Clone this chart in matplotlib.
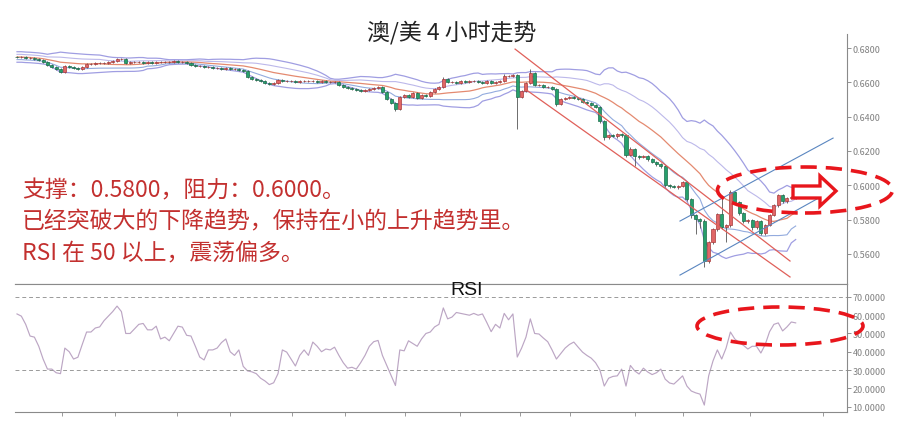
import numpy as np
import pandas as pd
import matplotlib
matplotlib.use('Agg')
import matplotlib.pyplot as plt
from matplotlib.patches import Ellipse, Polygon

plt.rcParams['font.family'] = ['Noto Sans CJK SC', 'DejaVu Sans']

# ---------------- data ----------------
first_open = 0.6750
closes = [
    0.6748, 0.6748, 0.6742, 0.6742, 0.6736, 0.6730, 0.6718, 0.6701, 0.6689, 0.6678,
    0.6660, 0.6695, 0.6689, 0.6683, 0.6678, 0.6689, 0.6707, 0.6707, 0.6713, 0.6713,
    0.6713, 0.6718, 0.6724, 0.6736, 0.6736, 0.6713, 0.6718, 0.6718, 0.6718, 0.6713,
    0.6718, 0.6713, 0.6718, 0.6718, 0.6718, 0.6718, 0.6724, 0.6718, 0.6718, 0.6713,
    0.6701, 0.6695, 0.6695, 0.6689, 0.6689, 0.6683, 0.6683, 0.6678, 0.6683, 0.6678,
    0.6678, 0.6672, 0.6666, 0.6631, 0.6619, 0.6613, 0.6608, 0.6596, 0.6590, 0.6596,
    0.6613, 0.6608, 0.6608, 0.6608, 0.6602, 0.6608, 0.6608, 0.6608, 0.6608, 0.6602,
    0.6608, 0.6602, 0.6602, 0.6602, 0.6584, 0.6573, 0.6567, 0.6561, 0.6555, 0.6549,
    0.6555, 0.6561, 0.6567, 0.6573, 0.6543, 0.6503, 0.6479, 0.6444, 0.6514, 0.6526,
    0.6514, 0.6538, 0.6508, 0.6526, 0.6520, 0.6543, 0.6561, 0.6573, 0.6619, 0.6602,
    0.6602, 0.6596, 0.6608, 0.6602, 0.6608, 0.6608, 0.6602, 0.6596, 0.6608, 0.6596,
    0.6602, 0.6608, 0.6637, 0.6637, 0.6643, 0.6514, 0.6549, 0.6596, 0.6654, 0.6584,
    0.6584, 0.6573, 0.6573, 0.6561, 0.6473, 0.6503, 0.6508, 0.6514, 0.6508, 0.6503,
    0.6485, 0.6479, 0.6468, 0.6456, 0.6374, 0.6281, 0.6293, 0.6287, 0.6299, 0.6293,
    0.6176, 0.6211, 0.6170, 0.6164, 0.6170, 0.6153, 0.6135, 0.6124, 0.6112, 0.6001,
    0.5995, 0.5990, 0.5995, 0.6019, 0.5920, 0.5826, 0.5803, 0.5791, 0.5558, 0.5669,
    0.5745, 0.5832, 0.5756, 0.5768, 0.5960, 0.5902, 0.5838, 0.5791, 0.5797, 0.5756,
    0.5791, 0.5721, 0.5768, 0.5826, 0.5885, 0.5943, 0.5908, 0.5925, 0.5931, 0.5978,
]
# wick lengths in pips (0.0001)
upper_wick = [
    4, 5, 4, 5, 4, 6, 5, 4, 5, 4,
    5, 6, 4, 5, 4, 5, 6, 4, 5, 4,
    4, 5, 4, 6, 5, 4, 5, 4, 5, 4,
    5, 4, 5, 4, 4, 5, 4, 5, 4, 5,
    5, 4, 5, 4, 5, 4, 5, 4, 5, 4,
    4, 5, 6, 8, 5, 4, 5, 4, 6, 5,
    6, 4, 5, 4, 5, 4, 5, 4, 5, 4,
    4, 5, 4, 5, 6, 4, 5, 4, 5, 4,
    5, 4, 5, 4, 6, 5, 6, 5, 8, 6,
    5, 6, 5, 4, 5, 6, 5, 6, 12, 5,
    4, 5, 4, 5, 4, 5, 4, 5, 5, 4,
    5, 4, 10, 5, 6, 8, 6, 8, 24, 6,
    5, 4, 5, 4, 6, 8, 5, 4, 5, 4,
    5, 4, 5, 4, 6, 8, 5, 6, 5, 4,
    8, 10, 5, 4, 5, 4, 5, 4, 6, 8,
    5, 4, 5, 6, 8, 6, 5, 6, 10, 8,
    8, 6, 100, 8, 10, 8, 6, 5, 6, 8,
    6, 8, 6, 8, 6, 5, 6, 8, 6, 5,
]
lower_wick = [
    5, 4, 5, 4, 5, 4, 6, 5, 4, 6,
    6, 5, 4, 5, 6, 4, 5, 4, 5, 4,
    5, 4, 5, 4, 5, 6, 4, 5, 4, 5,
    4, 5, 4, 5, 4, 4, 5, 4, 5, 4,
    5, 4, 5, 4, 5, 4, 5, 4, 5, 4,
    4, 5, 4, 8, 6, 5, 4, 6, 8, 5,
    5, 4, 5, 4, 5, 4, 5, 4, 5, 4,
    4, 5, 4, 5, 6, 5, 6, 5, 6, 5,
    5, 4, 5, 4, 6, 8, 8, 11, 6, 5,
    6, 5, 6, 5, 4, 5, 4, 5, 6, 5,
    5, 4, 5, 4, 5, 4, 5, 4, 5, 4,
    4, 5, 4, 5, 6, 186, 8, 6, 6, 8,
    5, 6, 5, 6, 10, 6, 5, 6, 5, 6,
    6, 5, 6, 8, 10, 15, 10, 8, 10, 12,
    10, 8, 60, 10, 8, 10, 8, 10, 12, 10,
    10, 8, 10, 8, 12, 15, 88, 40, 35, 10,
    10, 12, 10, 87, 10, 12, 10, 12, 10, 15,
    10, 12, 10, 8, 8, 10, 12, 10, 8, 10,
]
rsi_values = [
    60.7, 59.5, 55.0, 48.6, 48.0, 43.0, 36.0, 30.5, 30.5, 28.5,
    28.0, 42.0, 40.0, 36.0, 37.0, 44.0, 50.8, 50.8, 53.0, 53.6,
    57.0, 59.5, 62.0, 65.0, 62.0, 50.0, 50.0, 52.5, 55.0, 55.5,
    52.0, 52.0, 54.0, 47.0, 48.0, 46.0, 50.0, 54.0, 53.5, 49.0,
    48.6, 43.0, 37.1, 35.5, 41.0, 41.0, 42.0, 45.0, 47.0, 40.0,
    38.0, 41.0, 32.0, 29.5, 29.0, 28.0, 25.5, 24.0, 22.0, 23.0,
    28.0, 41.0, 39.8, 36.0, 32.2, 38.0, 41.0, 38.0, 45.3, 43.0,
    40.0, 41.5, 41.0, 42.5, 38.0, 34.0, 31.0, 31.5, 30.5, 34.0,
    38.0, 43.0, 45.5, 46.2, 38.0, 32.5, 27.0, 21.5, 41.0, 40.5,
    46.0, 44.5, 43.0, 47.0, 50.0, 50.8, 53.6, 55.0, 64.0, 58.0,
    59.0, 61.5, 61.0, 60.5, 60.0, 61.0, 60.0, 60.7, 56.0, 51.0,
    55.0, 53.0, 61.0, 57.5, 60.7, 37.1, 42.0, 48.0, 58.0, 50.0,
    49.7, 47.5, 45.5, 41.0, 36.0, 39.0, 42.0, 44.0, 45.3, 42.5,
    39.8, 38.0, 36.5, 34.0, 30.0, 21.2, 25.5, 26.5, 26.8, 30.5,
    21.2, 32.5, 29.5, 27.8, 31.0, 28.9, 27.5, 28.5, 30.5, 25.0,
    22.9, 22.3, 24.5, 26.8, 21.2, 18.5, 17.5, 16.8, 10.8, 26.8,
    35.0, 41.0, 36.0, 42.0, 50.8, 47.0, 45.0, 43.5, 41.5, 43.0,
    43.0, 39.3, 44.0, 51.0, 55.0, 55.8, 51.4, 53.6, 56.3, 55.8,
]
price_ticks = [0.5600, 0.5800, 0.6000, 0.6200, 0.6400, 0.6600, 0.6800]
rsi_ticks = [10, 20, 30, 40, 50, 60, 70]
rsi_levels = [70, 30]
date_tick_pos = [10.3, 22.5, 36.8, 49.0, 63.2, 75.4, 89.2, 101.8, 115.6, 127.1,
                 142.1, 153.1, 168.5, 185.3]
# trend lines (bar index, price)
down_upper_x = [114.5, 177.7]
down_upper_p = [0.6794, 0.5558]
down_lower_x = [116.8, 177.7]
down_lower_p = [0.6561, 0.5465]
up_upper_x = [152.4, 187.6]
up_upper_p = [0.5791, 0.6275]
up_lower_x = [152.4, 183.9]
up_lower_p = [0.5476, 0.5920]

title = '澳/美 4 小时走势'
notes = ['支撑：0.5800，阻力：0.6000。',
         '已经突破大的下降趋势，保持在小的上升趋势里。',
         'RSI 在 50 以上，震荡偏多。']

# ---------------- derived ----------------
c = np.array(closes)
o = np.concatenate([[first_open], c[:-1]])
hi = np.maximum(o, c) + np.array(upper_wick) * 1e-4
lo = np.minimum(o, c) - np.array(lower_wick) * 1e-4
idx = np.arange(len(c))
s = pd.Series(c)
mid = s.rolling(20, min_periods=1).mean()
sd = s.rolling(20, min_periods=8).std(ddof=0).bfill()

W, H = 899, 427
fig = plt.figure(figsize=(W / 100, H / 100), dpi=100)
fx = lambda x: x / W
fy = lambda y: 1 - y / H

ax = fig.add_axes([fx(15), fy(285), (847 - 15) / W, 250 / H])
ax2 = fig.add_axes([fx(15), fy(413), (847 - 15) / W, 128 / H], sharex=ax)

# bands
ax.plot(idx, mid + 2 * sd, color='#a09ee2', lw=0.9, zorder=1)
ax.plot(idx, mid - 2 * sd, color='#a09ee2', lw=0.9, zorder=1)
ax.plot(idx, mid + 1 * sd, color='#bcb8ea', lw=0.8, zorder=1)
ax.plot(idx, mid - 1 * sd, color='#93abde', lw=0.8, zorder=1)
ax.plot(idx, mid, color='#e48a70', lw=0.9, zorder=1)

# candles
up = c >= o
ax.vlines(idx, lo, hi, color='#555555', lw=0.6, zorder=2)
body_h = np.maximum(np.abs(c - o), 0.00025)
ax.bar(idx[up], body_h[up], bottom=np.minimum(o, c)[up], width=0.7,
       color='#e06666', edgecolor='#a83a3a', lw=0.5, zorder=3)
ax.bar(idx[~up], body_h[~up], bottom=np.minimum(o, c)[~up], width=0.7,
       color='#26a06c', edgecolor='#1d6b4b', lw=0.5, zorder=3)

# trend lines
ax.plot(down_upper_x, down_upper_p, color='#e0605a', lw=0.9, zorder=4)
ax.plot(down_lower_x, down_lower_p, color='#e0605a', lw=0.9, zorder=4)
ax.plot(up_upper_x, up_upper_p, color='#5a86c0', lw=0.8, zorder=4)
ax.plot(up_lower_x, up_lower_p, color='#5a86c0', lw=0.8, zorder=4)

ax.set_xlim(-0.46, 190.8)
ax.set_ylim(0.5424, 0.6882)
ax.yaxis.tick_right()
ax.set_yticks(price_ticks)
ax.set_yticklabels([f'{v:.4f}' for v in price_ticks])
ax.tick_params(axis='y', labelsize=6.5, colors='#808080', length=3, width=0.6, pad=1)
ax.tick_params(axis='x', bottom=False, labelbottom=False)
for sp in ['left', 'top']:
    ax.spines[sp].set_visible(False)
for sp in ['right', 'bottom']:
    ax.spines[sp].set_color('#8a8a8a')
    ax.spines[sp].set_linewidth(0.8)

# RSI
ax2.plot(idx, rsi_values, color='#bca6c4', lw=0.85)
for lv in rsi_levels:
    ax2.axhline(lv, color='#9a9a9a', lw=0.7, ls=(0, (4, 3)))
ax2.set_ylim(7.0, 77.1)
ax2.yaxis.tick_right()
ax2.set_yticks(rsi_ticks)
ax2.set_yticklabels([f'{v:.4f}' for v in rsi_ticks])
ax2.tick_params(axis='y', labelsize=6.5, colors='#808080', length=3, width=0.6, pad=1)
ax2.set_xticks(date_tick_pos)
ax2.tick_params(axis='x', labelbottom=False, length=3, width=0.6, colors='#8a8a8a')
ax2.spines['left'].set_visible(False)
for sp in ['right', 'bottom', 'top']:
    ax2.spines[sp].set_color('#8a8a8a')
    ax2.spines[sp].set_linewidth(0.8)

# texts
fig.text(fx(452), fy(33), title, ha='center', va='center', fontsize=16.5,
         color='#222222', fontweight='light')
for k, (t, yy) in enumerate(zip(notes, [191, 222, 254])):
    fig.text(fx(22), fy(yy), t, ha='left', va='center', fontsize=16.5,
             color='#c3302f', fontweight='light')
fig.text(fx(467), fy(291), 'RSI', ha='center', va='center', fontsize=14,
         family=['Liberation Sans', 'DejaVu Sans'], color='#111111')

# annotations
red = '#e8161c'
e1 = Ellipse((fx(805), fy(191)), 175 / W, 46 / H, transform=fig.transFigure,
             fill=False, ec=red, lw=2.6, ls=(0, (4.5, 2.5)), zorder=10)
e2 = Ellipse((fx(780), fy(327)), 166 / W, 38 / H, transform=fig.transFigure,
             fill=False, ec=red, lw=2.6, ls=(0, (4.5, 2.5)), zorder=10)
fig.add_artist(e1)
fig.add_artist(e2)
arrow_px = [(793, 187), (820, 187), (820, 177), (836, 192), (820, 207), (820, 199), (793, 199)]
arr = Polygon([(fx(x), fy(y)) for x, y in arrow_px], closed=True, transform=fig.transFigure,
              fc='white', ec=red, lw=2.4, zorder=11)
fig.add_artist(arr)

fig.savefig('out.png', dpi=100)
